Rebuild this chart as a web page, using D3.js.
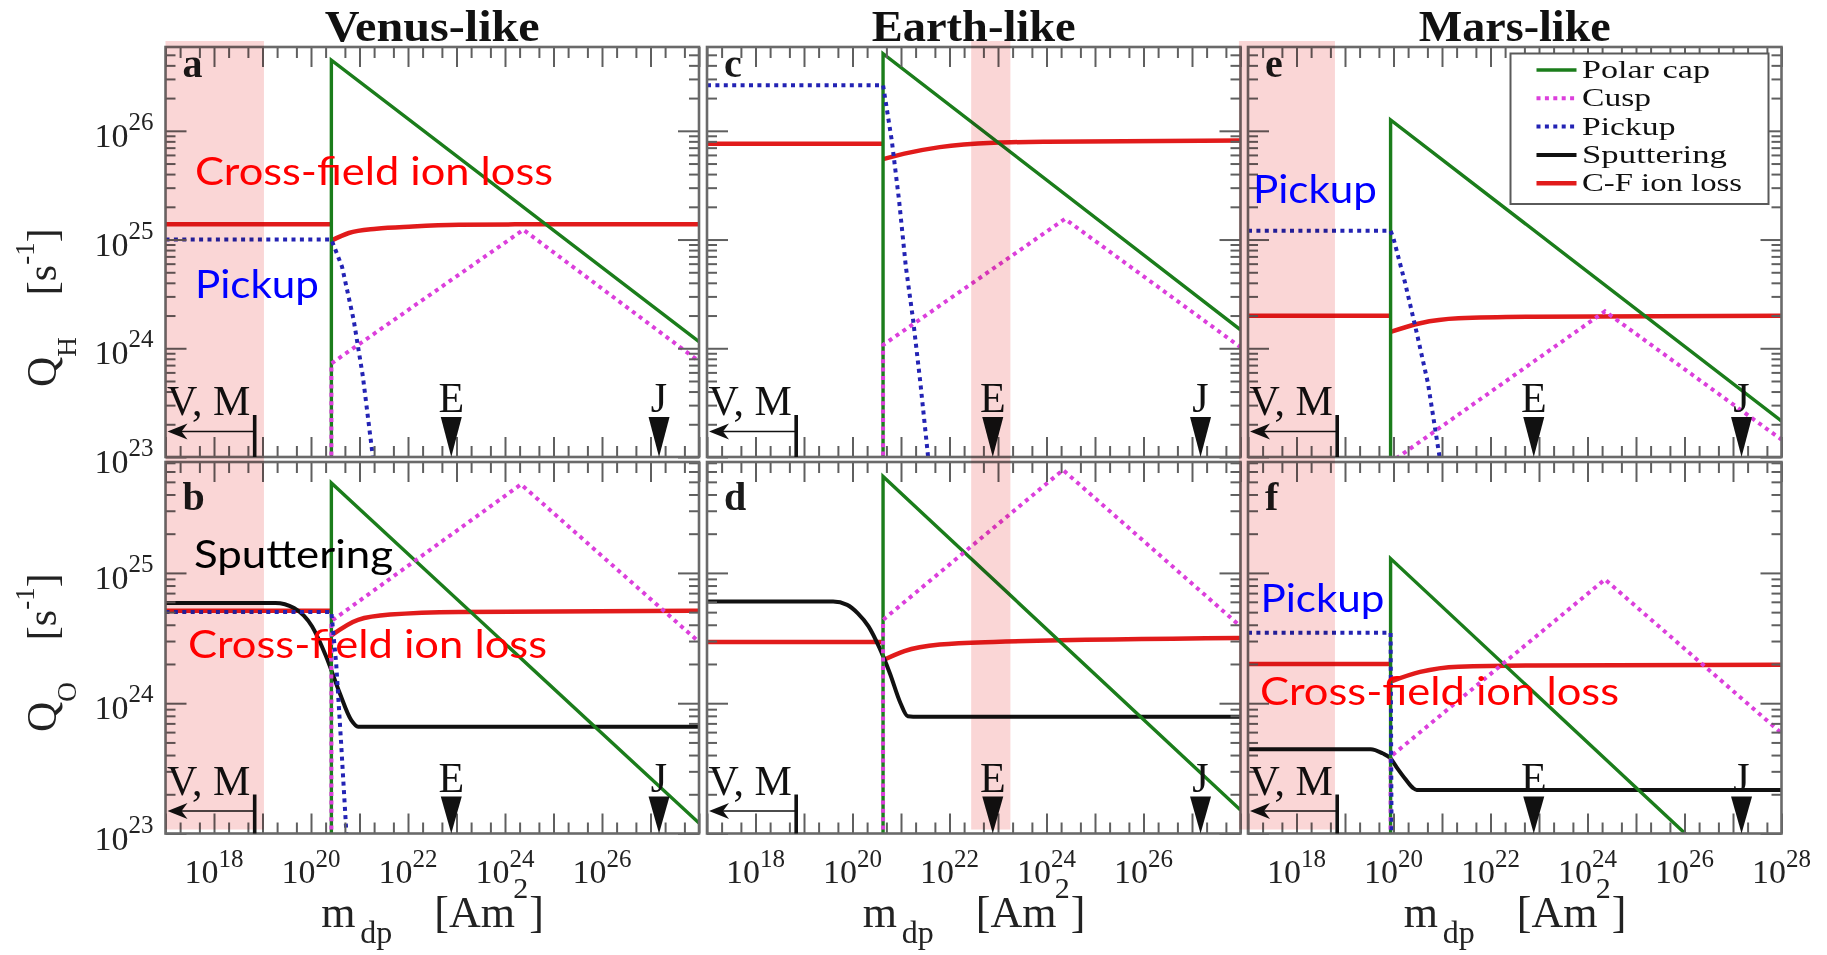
<!DOCTYPE html>
<html>
<head>
<meta charset="utf-8">
<script src="https://cdn.jsdelivr.net/npm/d3@7"></script>
<style>
  html, body { margin: 0; padding: 0; background: #ffffff; }
  svg { display: block; }
</style>
</head>
<body>
<script>
// ---------------------------------------------------------------
// Escape rates of H and O ions versus the planetary dipole moment
// ---------------------------------------------------------------

const planets = ["Venus-like", "Earth-like", "Mars-like"];
const panelLetters = [["a", "b"], ["c", "d"], ["e", "f"]];
const seriesNames = ["Polar cap", "Cusp", "Pickup", "Sputtering", "C-F ion loss"];
const seriesColors = ["#1b7d1b", "#dc3fdc", "#2323b4", "#111111", "#e11b1b"];

// tick exponents
const xLabelExponents = [18, 20, 22, 24, 26];
const xLabelExponentsLast = [18, 20, 22, 24, 26, 28];
const yLabelExponentsH = [23, 24, 25, 26];
const yLabelExponentsO = [23, 24, 25];

// axis domains
const mDomain = [1e17, 1e28];      // m_dp [Am^2]
const qDomainH = [1e23, 5.9e26];   // Q_H [1/s]
const qDomainO = [1e23, 7.1e25];   // Q_O [1/s]

// present-day dipole moments of the planets [Am^2]
const momentVM = 6.9e18;
const momentE = 7.8e22;
const momentJ = 1.5e27;

// shaded m_dp ranges per column
const shadeVenus = [1e17, 1.07e19];
const shadeEarth = [2.8e22, 1.8e23];
const shadeMars = [6.5e16, 6.2e18];

// ---- curves, points given as [log10 m_dp, log10 Q] ----
// Venus-like, hydrogen
const polarVenusH = [[20.42, 20], [20.42, 26.65], [28, 24.06]];
const cuspVenusH = [[20.42, 20], [20.42, 23.86], [24.38, 25.09], [28, 23.88]];
const pickupVenusH = [[17, 25.0], [20.42, 25.0], [20.64, 24.75], [20.88, 24.26], [21.07, 23.74], [21.27, 23.02], [21.32, 22.8]];
const cfVenusHUnmag = [[17, 25.14], [20.42, 25.14]];
const cfVenusHMag = [[20.42, 24.99], [20.78, 25.06], [21.35, 25.10], [22.1, 25.12], [23.05, 25.135], [24.5, 25.14], [28, 25.14]];
// Venus-like, oxygen
const polarVenusO = [[20.42, 20], [20.42, 25.69], [28, 23.08]];
const cuspVenusO = [[20.42, 20], [20.42, 24.63], [24.33, 25.68], [28, 24.47]];
const pickupVenusO = [[17, 24.70], [20.42, 24.70], [20.52, 24.3], [20.62, 23.7], [20.73, 23.0], [20.76, 22.8]];
const sputterVenusO = [[17, 24.77], [19.27, 24.77], [19.65, 24.73], [20.02, 24.59], [20.31, 24.36], [20.59, 24.08], [20.83, 23.87], [20.97, 23.82], [28, 23.82]];
const cfVenusOUnmag = [[17, 24.71], [20.42, 24.71]];
const cfVenusOMag = [[20.42, 24.52], [20.97, 24.64], [21.63, 24.68], [23.05, 24.70], [28, 24.71]];
// Earth-like, hydrogen
const polarEarthH = [[20.63, 20], [20.63, 26.71], [28, 24.17]];
const cuspEarthH = [[20.63, 20], [20.63, 24.03], [24.38, 25.19], [28, 24.01]];
const pickupEarthH = [[17, 26.42], [20.63, 26.42], [20.68, 26.28], [20.81, 25.91], [20.96, 25.36], [21.10, 24.75], [21.25, 24.26], [21.40, 23.68], [21.55, 23.04], [21.6, 22.8]];
const cfEarthHUnmag = [[17, 25.88], [20.63, 25.88]];
const cfEarthHMag = [[20.63, 25.74], [21.07, 25.79], [21.80, 25.85], [22.91, 25.89], [24.01, 25.90], [28, 25.91]];
// Earth-like, oxygen
const polarEarthO = [[20.63, 20], [20.63, 25.74], [28, 23.18]];
const cuspEarthO = [[20.63, 20], [20.63, 24.64], [24.34, 25.79], [28, 24.59]];
const sputterEarthO = [[17, 24.78], [19.60, 24.78], [19.89, 24.755], [20.11, 24.69], [20.33, 24.59], [20.55, 24.43], [20.77, 24.23], [20.99, 24.0], [21.14, 23.90], [21.25, 23.897], [28, 23.897]];
const cfEarthOUnmag = [[17, 24.47], [20.63, 24.47]];
const cfEarthOMag = [[20.63, 24.33], [21.07, 24.40], [21.80, 24.45], [22.91, 24.47], [28, 24.50]];
// Mars-like, hydrogen
const polarMarsH = [[19.94, 20], [19.94, 26.10], [28, 23.33]];
const cuspMarsH = [[19.94, 20], [19.94, 22.95], [24.36, 24.34], [28, 23.16]];
const pickupMarsH = [[17, 25.08], [19.94, 25.08], [20.00, 25.01], [20.24, 24.60], [20.48, 24.14], [20.71, 23.68], [20.95, 23.0], [21.0, 22.8]];
const cfMarsHUnmag = [[17, 24.30], [19.94, 24.30]];
const cfMarsHMag = [[19.94, 24.15], [20.55, 24.23], [21.34, 24.275], [22.91, 24.29], [28, 24.30]];
// Mars-like, oxygen
const polarMarsO = [[19.94, 20], [19.94, 25.11], [26.1, 22.97]];
const cuspMarsO = [[19.94, 20], [19.94, 23.59], [24.36, 24.95], [28, 23.77]];
const pickupMarsO = [[17, 24.54], [19.94, 24.54], [19.96, 23.0], [19.97, 22.5]];
const sputterMarsO = [[17, 23.647], [19.53, 23.647], [19.77, 23.616], [19.93, 23.58], [20.08, 23.50], [20.24, 23.42], [20.40, 23.35], [20.48, 23.334], [28, 23.334]];
const cfMarsOUnmag = [[17, 24.30], [19.94, 24.30]];
const cfMarsOMag = [[19.94, 24.166], [20.55, 24.24], [21.34, 24.28], [22.91, 24.29], [28, 24.295]];

// ---------------------------------------------------------------
const W = 1827, H = 955;
const serif = "'Liberation Serif', 'Times New Roman', serif";
const sans = "Lato, 'Open Sans', 'Noto Sans', sans-serif";

const colLeft = [165.5, 707, 1248];
const panelWidth = 533.5;
const rowTop = [47, 462];
const rowBottom = [457, 833.5];

const shades = [shadeVenus, shadeEarth, shadeMars];

const panels = [
  { col: 0, row: 0, polar: polarVenusH, cusp: cuspVenusH, pickup: pickupVenusH, sputter: null, cf: [cfVenusHUnmag, cfVenusHMag] },
  { col: 0, row: 1, polar: polarVenusO, cusp: cuspVenusO, pickup: pickupVenusO, sputter: sputterVenusO, cf: [cfVenusOUnmag, cfVenusOMag] },
  { col: 1, row: 0, polar: polarEarthH, cusp: cuspEarthH, pickup: pickupEarthH, sputter: null, cf: [cfEarthHUnmag, cfEarthHMag] },
  { col: 1, row: 1, polar: polarEarthO, cusp: cuspEarthO, pickup: null, sputter: sputterEarthO, cf: [cfEarthOUnmag, cfEarthOMag] },
  { col: 2, row: 0, polar: polarMarsH, cusp: cuspMarsH, pickup: pickupMarsH, sputter: null, cf: [cfMarsHUnmag, cfMarsHMag] },
  { col: 2, row: 1, polar: polarMarsO, cusp: cuspMarsO, pickup: pickupMarsO, sputter: sputterMarsO, cf: [cfMarsOUnmag, cfMarsOMag] }
];

const svg = d3.select("body").append("svg")
  .attr("width", W).attr("height", H)
  .attr("viewBox", `0 0 ${W} ${H}`);
svg.append("rect").attr("width", W).attr("height", H).attr("fill", "#fff");

const defs = svg.append("defs");

// minor tick values for a log axis
function minorTicks(lo, hi, mults) {
  const out = [];
  for (let e = lo; e <= hi; e++) mults.forEach(m => out.push(m * Math.pow(10, e)));
  return out;
}
function majorTicks(lo, hi) {
  const out = [];
  for (let e = lo; e <= hi; e++) out.push(Math.pow(10, e));
  return out;
}

const pw = v => Math.pow(10, v);

panels.forEach((p, i) => {
  const x0 = colLeft[p.col], x1 = x0 + panelWidth;
  const y0 = rowTop[p.row], y1 = rowBottom[p.row];
  const x = d3.scaleLog().domain(mDomain).range([x0, x1]);
  const y = d3.scaleLog().domain(p.row === 0 ? qDomainH : qDomainO).range([y1, y0]);
  p.x = x; p.y = y;

  const clipId = "clip" + i;
  defs.append("clipPath").attr("id", clipId)
    .append("rect").attr("x", x0).attr("y", y0).attr("width", x1 - x0).attr("height", y1 - y0);

  const g = svg.append("g");
  const lines = g.append("g").attr("clip-path", `url(#${clipId})`);

  const lineLinear = d3.line().x(d => x(pw(d[0]))).y(d => y(pw(d[1])));
  const lineSmooth = d3.line().x(d => x(pw(d[0]))).y(d => y(pw(d[1]))).curve(d3.curveMonotoneX);

  // cross-field ion loss (two branches)
  lines.append("path").datum(p.cf[0]).attr("d", lineLinear)
    .attr("fill", "none").attr("stroke", seriesColors[4]).attr("stroke-width", 4.5);
  lines.append("path").datum(p.cf[1]).attr("d", lineSmooth)
    .attr("fill", "none").attr("stroke", seriesColors[4]).attr("stroke-width", 4.5);
  // sputtering
  if (p.sputter) {
    lines.append("path").datum(p.sputter).attr("d", lineSmooth)
      .attr("fill", "none").attr("stroke", seriesColors[3]).attr("stroke-width", 4);
  }
  // polar cap
  lines.append("path").datum(p.polar).attr("d", lineLinear)
    .attr("fill", "none").attr("stroke", seriesColors[0]).attr("stroke-width", 3.4)
    .attr("stroke-linejoin", "miter");
  // cusp
  lines.append("path").datum(p.cusp).attr("d", lineLinear)
    .attr("fill", "none").attr("stroke", seriesColors[1]).attr("stroke-width", 4)
    .attr("stroke-dasharray", "4 4.4");
  // pickup
  if (p.pickup) {
    lines.append("path").datum(p.pickup).attr("d", lineLinear)
      .attr("fill", "none").attr("stroke", seriesColors[2]).attr("stroke-width", 4)
      .attr("stroke-dasharray", "4 4.4");
  }

  // axes: ticks pointing inward on all four sides
  const xMaj = majorTicks(17, 28);
  const xMin = minorTicks(17, 27, [2, 5]);
  const yLo = 23, yHi = p.row === 0 ? 26 : 25;
  const yMaj = majorTicks(yLo, yHi);
  const yMin = minorTicks(yLo - 1, yHi, [2, 3, 4, 5, 6, 7, 8, 9]).filter(v => v > y.domain()[0] && v < y.domain()[1]);

  const styleAxis = sel => {
    sel.select(".domain").remove();
    sel.selectAll(".tick line").attr("stroke", "#5f5f5f").attr("stroke-width", 2);
    sel.selectAll(".tick text").remove();
  };
  const axes = g.append("g");
  axes.append("g").attr("transform", `translate(0,${y1})`)
    .call(d3.axisBottom(x).tickValues(xMaj).tickSize(-20).tickFormat("")).call(styleAxis);
  axes.append("g").attr("transform", `translate(0,${y1})`)
    .call(d3.axisBottom(x).tickValues(xMin).tickSize(-11).tickFormat("")).call(styleAxis);
  axes.append("g").attr("transform", `translate(0,${y0})`)
    .call(d3.axisTop(x).tickValues(xMaj).tickSize(-20).tickFormat("")).call(styleAxis);
  axes.append("g").attr("transform", `translate(0,${y0})`)
    .call(d3.axisTop(x).tickValues(xMin).tickSize(-11).tickFormat("")).call(styleAxis);
  axes.append("g").attr("transform", `translate(${x0},0)`)
    .call(d3.axisLeft(y).tickValues(yMaj).tickSize(-21).tickFormat("")).call(styleAxis);
  axes.append("g").attr("transform", `translate(${x0},0)`)
    .call(d3.axisLeft(y).tickValues(yMin).tickSize(-10).tickFormat("")).call(styleAxis);
  axes.append("g").attr("transform", `translate(${x1},0)`)
    .call(d3.axisRight(y).tickValues(yMaj).tickSize(-21).tickFormat("")).call(styleAxis);
  axes.append("g").attr("transform", `translate(${x1},0)`)
    .call(d3.axisRight(y).tickValues(yMin).tickSize(-10).tickFormat("")).call(styleAxis);

  // frame
  g.append("rect").attr("x", x0).attr("y", y0).attr("width", x1 - x0).attr("height", y1 - y0)
    .attr("fill", "none").attr("stroke", "#6a6a6a").attr("stroke-width", 2.6);

  // panel letter
  g.append("text").attr("x", x0 + 17).attr("y", p.row === 0 ? y0 + 30 : y0 + 48)
    .attr("font-family", serif).attr("font-weight", "bold").attr("font-size", 40)
    .attr("fill", "#1a1a1a").text(panelLetters[p.col][p.row]);

  // planet markers
  const textOff = p.row === 0 ? 42 : 39;
  const triOff = p.row === 0 ? 40 : 37;
  const arrowOff = p.row === 0 ? 25.5 : 22.5;
  const mk = g.append("g").attr("fill", "#111").attr("stroke", "none");
  mk.append("text").attr("x", x0 + 1.5).attr("y", y1 - textOff)
    .attr("font-family", serif).attr("font-size", 42).text("V, M");
  const xvm = x(momentVM);
  mk.append("line").attr("x1", x0 + 8).attr("x2", xvm).attr("y1", y1 - arrowOff).attr("y2", y1 - arrowOff)
    .attr("stroke", "#111").attr("stroke-width", 1.6);
  mk.append("path")
    .attr("d", `M${x0 + 2},${y1 - arrowOff} L${x0 + 22},${y1 - arrowOff - 8} L${x0 + 16},${y1 - arrowOff} L${x0 + 22},${y1 - arrowOff + 8} Z`);
  mk.append("line").attr("x1", xvm).attr("x2", xvm).attr("y1", y1 - textOff).attr("y2", y1)
    .attr("stroke", "#111").attr("stroke-width", 3.6);
  [["E", momentE], ["J", momentJ]].forEach(([lab, m]) => {
    const xm = x(m);
    mk.append("text").attr("x", xm).attr("y", y1 - textOff - 3).attr("text-anchor", "middle")
      .attr("font-family", serif).attr("font-size", 42).text(lab);
    mk.append("path").attr("d", `M${xm - 10.5},${y1 - triOff} L${xm + 10.5},${y1 - triOff} L${xm},${y1} Z`);
  });

  // x tick labels on the bottom row
  if (p.row === 1) {
    const exps = p.col === 2 ? xLabelExponentsLast : xLabelExponents;
    exps.forEach(e => {
      const t = svg.append("text").attr("x", x(Math.pow(10, e))).attr("y", 883)
        .attr("text-anchor", "middle").attr("font-family", serif).attr("fill", "#222");
      t.append("tspan").attr("font-size", 34).text("10");
      t.append("tspan").attr("font-size", 25).attr("dy", -16).text(String(e));
    });
    // x axis title: m_dp [Am^2], each piece placed on its own
    const cx = (x0 + x1) / 2;
    const titleParts = [
      { s: "m", dx: -111, y: 927, size: 44 },
      { s: "dp", dx: -72, y: 943, size: 32 },
      { s: "[Am", dx: 2, y: 927, size: 44 },
      { s: "2", dx: 81, y: 898, size: 30 },
      { s: "]", dx: 97, y: 927, size: 44 }
    ];
    titleParts.forEach(tp => {
      svg.append("text").attr("x", cx + tp.dx).attr("y", tp.y)
        .attr("font-family", serif).attr("font-size", tp.size).attr("fill", "#222").text(tp.s);
    });
  }

  // y tick labels on the left column
  if (p.col === 0) {
    const exps = p.row === 0 ? yLabelExponentsH : yLabelExponentsO;
    exps.forEach(e => {
      const t = svg.append("text").attr("x", x0 - 12).attr("y", y(Math.pow(10, e)) + 16)
        .attr("text-anchor", "end").attr("font-family", serif).attr("fill", "#222");
      t.append("tspan").attr("font-size", 34).text("10");
      t.append("tspan").attr("font-size", 25).attr("dy", -17).text(String(e));
    });
  }
});

// shaded ranges (multiplied over the panels)
shades.forEach((r, c) => {
  const x = panels.find(p => p.col === c).x;
  svg.append("rect")
    .attr("x", x(r[0])).attr("width", x(r[1]) - x(r[0]))
    .attr("y", rowTop[0] - 6).attr("height", rowBottom[1] - 4 - (rowTop[0] - 6))
    .attr("fill", "#fad6d6").style("mix-blend-mode", "multiply");
});

// column titles
const titleWidths = [215, 204, 192];
planets.forEach((name, c) => {
  svg.append("text").attr("x", colLeft[c] + panelWidth / 2).attr("y", 41)
    .attr("text-anchor", "middle").attr("font-family", serif).attr("font-weight", "bold")
    .attr("font-size", 44).attr("fill", "#111")
    .attr("textLength", titleWidths[c]).attr("lengthAdjust", "spacingAndGlyphs")
    .text(name);
});

// y axis titles
[["H", 387], ["O", 732]].forEach(([sp, yStart]) => {
  const t = svg.append("text").attr("transform", `translate(56,${yStart}) rotate(-90)`)
    .attr("font-family", serif).attr("fill", "#222");
  t.append("tspan").attr("font-size", 42).text("Q");
  t.append("tspan").attr("font-size", 27).attr("dy", 20).text(sp);
  t.append("tspan").attr("font-size", 42).attr("dx", 42).attr("dy", -20).text("[s");
  t.append("tspan").attr("font-size", 27).attr("dy", -22).text("-1");
  t.append("tspan").attr("font-size", 42).attr("dy", 22).text("]");
});

// legend
const lg = svg.append("g");
lg.append("rect").attr("x", 1510.5).attr("y", 53.5).attr("width", 258).attr("height", 150.5)
  .attr("fill", "#fff").attr("stroke", "#5a5a5a").attr("stroke-width", 2);
const legendWidths = [128, 69, 93.5, 145, 160];
const legendDash = [null, "4 4.4", "4 4.4", null, null];
const legendStroke = [3.4, 4, 4, 4, 4.5];
seriesNames.forEach((name, k) => {
  const yy = 70 + k * 28.3;
  lg.append("line").attr("x1", 1536.5).attr("x2", 1576.5).attr("y1", yy).attr("y2", yy)
    .attr("stroke", seriesColors[k]).attr("stroke-width", legendStroke[k])
    .attr("stroke-dasharray", legendDash[k]);
  lg.append("text").attr("x", 1582).attr("y", yy + 8)
    .attr("font-family", serif).attr("font-size", 25.5).attr("fill", "#111")
    .attr("textLength", legendWidths[k]).attr("lengthAdjust", "spacingAndGlyphs")
    .text(name);
});

// annotations
const notes = [
  { text: "Cross-field ion loss", x: 195, y: 185, w: 358, color: "#ff0000" },
  { text: "Pickup", x: 195, y: 298, w: 124, color: "#0000ff" },
  { text: "Sputtering", x: 194, y: 568, w: 199, color: "#000000" },
  { text: "Cross-field ion loss", x: 188, y: 658, w: 359, color: "#ff0000" },
  { text: "Pickup", x: 1253, y: 203, w: 124, color: "#0000ff" },
  { text: "Pickup", x: 1260.5, y: 611.5, w: 124, color: "#0000ff" },
  { text: "Cross-field ion loss", x: 1260, y: 705, w: 359, color: "#ff0000" }
];
notes.forEach(n => {
  svg.append("text").attr("x", n.x).attr("y", n.y)
    .attr("font-family", sans).attr("font-size", 38).attr("fill", n.color)
    .attr("textLength", n.w).attr("lengthAdjust", "spacingAndGlyphs")
    .text(n.text);
});
</script>
</body>
</html>
